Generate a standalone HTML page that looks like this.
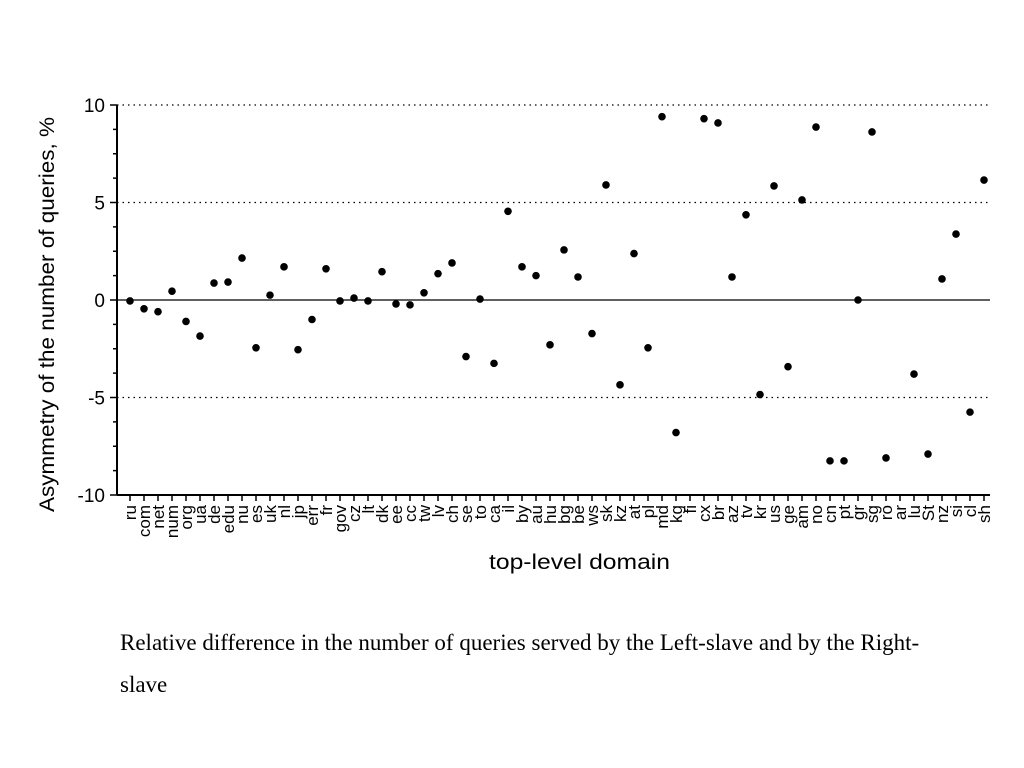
<!DOCTYPE html>
<html><head><meta charset="utf-8"><style>
body{margin:0;background:#fff;width:1024px;height:768px;overflow:hidden}
svg text{font-family:"Liberation Sans",sans-serif}
.cap{position:absolute;left:120px;top:622px;width:840px;font-family:"Liberation Serif",serif;font-size:23px;line-height:42px;color:#000}
</style></head><body>
<svg id="chart" width="1024" height="768" style="position:absolute;left:0;top:0"></svg>
<div class="cap">Relative difference in the number of queries served by the Left-slave and by the Right-slave</div>
<script>
const categories=["ru","com","net","num","org","ua","de","edu","nu","es","uk","nl","jp","err","fr","gov","cz","lt","dk","ee","cc","tw","lv","ch","se","to","ca","il","by","au","hu","bg","be","ws","sk","kz","at","pl","md","kg","fi","cx","br","az","tv","kr","us","ge","am","no","cn","pt","gr","sg","ro","ar","lu","St","nz","si","cl","sh"];
const values=[-0.05,-0.45,-0.6,0.45,-1.1,-1.85,0.87,0.92,2.15,-2.45,0.25,1.7,-2.55,-1.0,1.6,-0.05,0.1,-0.05,1.45,-0.2,-0.25,0.37,1.35,1.9,-2.9,0.05,-3.25,4.55,1.7,1.25,-2.3,2.57,1.18,-1.72,5.9,-4.35,2.38,-2.45,9.4,-6.8,null,9.3,9.08,1.18,4.37,-4.85,5.85,-3.42,5.13,8.87,-8.25,-8.25,0.0,8.62,-8.1,null,-3.8,-7.9,1.08,3.38,-5.75,6.15];
const yTicks=[10,5,0,-5,-10];
const NS="http://www.w3.org/2000/svg";
const svg=document.getElementById('chart');
const L=117,R=990,T=105,B=495,yMin=-10,yMax=10;
const x0=130,dx=(984-130)/61;
const xs=i=>x0+i*dx;
const ys=v=>B-(v-yMin)/(yMax-yMin)*(B-T);
function mk(tag,a,parent){const e=document.createElementNS(NS,tag);for(const k in a)e.setAttribute(k,a[k]);(parent||svg).appendChild(e);return e;}
yTicks.forEach(t=>{
 if(t===0||t===yMin)return;
 const g=mk('line',{x1:L,x2:R,y1:ys(t),y2:ys(t),stroke:'#000','stroke-width':1.2,'stroke-dasharray':'1.5,4'});
 
 
});
const zl=mk('line',{x1:L,x2:R,y1:ys(0),y2:ys(0),stroke:'#000','stroke-width':1.2});


const ya=mk('line',{x1:L,x2:L,y1:T,y2:B,stroke:'#000','stroke-width':2});


const xa=mk('line',{x1:L,x2:R,y1:B,y2:B,stroke:'#000','stroke-width':2});


for(let v=yMin;v<=yMax+0.001;v+=1.25){
 const major=Math.abs(v%5)<0.001;
 mk('line',{x1:L-(major?7:4),x2:L,y1:ys(v),y2:ys(v),stroke:'#000','stroke-width':1.5});
}
yTicks.forEach(t=>{
 const tx=mk('text',{x:L-12,y:ys(t)+7,'text-anchor':'end','font-size':19});
 tx.textContent=t;
 
 
});
categories.forEach((c,i)=>{
 const x=xs(i);
 mk('line',{x1:x,x2:x,y1:B,y2:B+6,stroke:'#000','stroke-width':1.5});
 const tx=mk('text',{x:0,y:0,'font-size':17,transform:`translate(${x+6},${B+10}) rotate(-90)`,'text-anchor':'end'});
 tx.textContent=c;
 
 
});
values.forEach((v,i)=>{
 if(v===null)return;
 const p=mk('circle',{cx:xs(i),cy:ys(v),r:3.8,fill:'#000'});
 
 
});
const xt=mk('text',{x:489,y:569,'font-size':21,textLength:181,lengthAdjust:'spacingAndGlyphs'});
xt.textContent='top-level domain';


const yt=mk('text',{x:0,y:0,'font-size':21,textLength:395,lengthAdjust:'spacingAndGlyphs',transform:'translate(54,512) rotate(-90)'});
yt.textContent='Asymmetry of the number of queries, %';


</script>
</body></html>
